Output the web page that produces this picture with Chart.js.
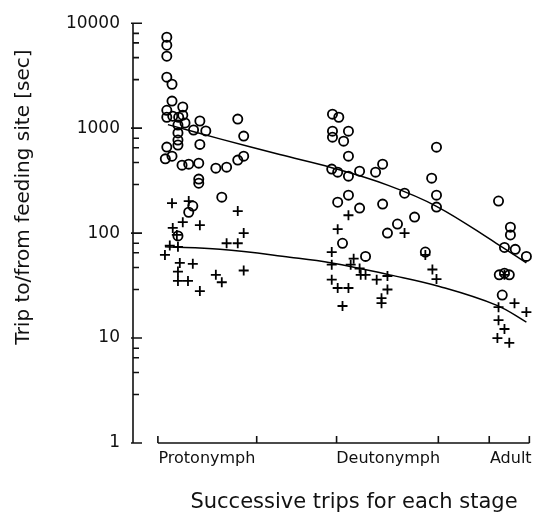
<!DOCTYPE html>
<html>
<head>
<meta charset="utf-8">
<script src="https://cdn.jsdelivr.net/npm/chart.js@4"></script>
<style>
  body { margin: 0; background: #fff; }
  #wrap { width: 538px; height: 518px; }
</style>
</head>
<body>
<div id="wrap"><canvas id="myChart"></canvas></div>
<script>
// stage labels and where they sit on the trip axis
const stageLabels = ['Protonymph', 'Deutonymph', 'Adult'];
const stageLabelPos = [13.2, 62, 95];
const xTickPositions = [0, 26.6, 48.1, 75.5, 89.2, 100];
const yTicks = [1, 10, 100, 1000, 10000];
const minorTickFactors = [8, 6.5, 4.7, 2.9];

// trips "to" feeding site (circles)
const circleTrips = [
  2.4, 2.4, 2.4, 2.4, 3.8, 3.8, 2.4, 6.7, 2.4, 4.0, 5.6, 6.7, 7.3, 11.3, 21.5,
  9.6, 12.9, 5.4, 5.4, 5.4, 5.4, 11.3, 23.1, 2.4, 2.0, 3.8, 6.5, 8.3, 11.0, 15.6,
  18.5, 21.5, 23.1, 11.0, 11.0, 17.2, 9.4, 8.3, 5.4,
  47.0, 48.7, 47.0, 47.0, 51.3, 50.0, 51.3, 46.8, 48.4, 51.3, 54.3, 58.6, 60.5,
  66.4, 51.3, 48.4, 60.5, 54.3, 69.1, 64.5, 61.8, 49.7, 55.9, 75.0, 73.7, 75.0,
  75.0, 72.0,
  91.7, 94.9, 94.9, 93.3, 96.2, 99.2, 91.9, 93.3, 94.6, 92.7
];
const circleTimes = [
  7360, 6170, 4850, 3060, 2620, 1810, 1480, 1590, 1270, 1300, 1270, 1330, 1120, 1170, 1220,
  960, 940, 1070, 900, 770, 690, 700, 840, 660, 510, 540, 444, 454, 464, 416,
  425, 496, 541, 327, 299, 220, 181, 158, 94,
  1360, 1270, 936, 821, 936, 752, 541, 407, 381, 349, 389, 381, 454,
  240, 230, 197, 189, 173, 142, 122, 100, 80, 60, 659, 334, 230,
  177, 66,
  202, 114, 96, 73, 70, 60, 40, 41.5, 40, 25.7
];

// trips "from" feeding site (crosses)
const crossTrips = [
  3.8, 8.3, 21.5, 6.7, 11.3, 4.0, 5.1, 23.1, 5.4, 3.2, 1.9, 5.9, 9.4, 5.4, 5.4,
  8.1, 11.3, 15.6, 17.2, 23.1, 18.5, 21.5,
  51.3, 48.4, 66.4, 46.8, 46.8, 52.7, 51.9, 54.3, 54.6, 55.9, 58.9, 61.8, 46.8,
  48.4, 51.3, 61.8, 60.2, 60.2, 49.7, 72.0, 73.9, 75.0,
  96.0, 99.2, 91.7, 91.7, 93.3, 91.4, 94.6, 93.3
];
const crossTimes = [
  193, 202, 162, 127, 119, 112, 96, 100, 74, 76, 62, 52, 51, 43, 35,
  35, 28, 40, 34, 44, 80, 80,
  148, 109, 100, 66, 50, 57, 50, 46, 40, 40, 36, 39, 36,
  30, 30, 29, 24, 21.5, 20.2, 62, 45, 36.5,
  21.5, 17.7, 19.7, 14.8, 12.2, 10, 9, 40
];

// fitted curves
const fitToX = [2.7, 16.7, 32.8, 46.8, 62, 75, 91.1, 99.2];
const fitToY = [1080, 790, 560, 420, 285, 180, 80, 52];
const fitFromX = [1.9, 16.7, 35.5, 46.8, 62.4, 75.8, 91.1, 99.2];
const fitFromY = [74, 70, 59, 52, 40, 31, 20.6, 14.2];

const xTitle = 'Successive trips for each stage';
const yTitle = 'Trip to/from feeding site [sec]';

const pairs = (xs, ys) => xs.map((x, i) => ({ x: x, y: ys[i] }));

const axisPlugin = {
  id: 'axisPlugin',
  beforeDatasetsDraw(chart) {
    const { ctx, chartArea: a, scales: { x, y } } = chart;
    ctx.save();
    ctx.strokeStyle = '#111';
    ctx.lineWidth = 1.6;
    ctx.beginPath();
    ctx.moveTo(a.left, a.top);
    ctx.lineTo(a.left, a.bottom);
    ctx.moveTo(x.getPixelForValue(xTickPositions[0]), a.bottom);
    ctx.lineTo(a.right, a.bottom);
    yTicks.forEach(v => {
      const py = y.getPixelForValue(v);
      ctx.moveTo(a.left - 2, py);
      ctx.lineTo(a.left + 9, py);
    });
    [1, 10, 100, 1000].forEach(d => {
      minorTickFactors.forEach(m => {
        const py = y.getPixelForValue(d * m);
        ctx.moveTo(a.left, py);
        ctx.lineTo(a.left + 6, py);
      });
    });
    xTickPositions.forEach(v => {
      const px = x.getPixelForValue(v);
      ctx.moveTo(px, a.bottom);
      ctx.lineTo(px, a.bottom - 7);
    });
    ctx.stroke();

    ctx.fillStyle = '#111';
    ctx.textAlign = 'center';
    ctx.textBaseline = 'alphabetic';
    ctx.font = '21px "DejaVu Sans"';
    ctx.fillText(xTitle, 354, 508);
    ctx.translate(29, 197);
    ctx.rotate(-Math.PI / 2);
    ctx.font = '20px "DejaVu Sans"';
    ctx.fillText(yTitle, 0, 0);
    ctx.restore();
  }
};

const ctx = document.getElementById('myChart').getContext('2d');

const config = {
  type: 'scatter',
  data: {
    datasets: [
      {
        label: 'to',
        data: pairs(circleTrips, circleTimes),
        pointStyle: 'circle',
        pointRadius: 4.6,
        borderColor: '#000',
        backgroundColor: 'rgba(255,255,255,0)',
        borderWidth: 1.8,
        clip: false
      },
      {
        label: 'from',
        data: pairs(crossTrips, crossTimes),
        pointStyle: 'cross',
        pointRadius: 5,
        borderColor: '#000',
        borderWidth: 1.8,
        clip: false
      },
      {
        label: 'fit to',
        data: pairs(fitToX, fitToY),
        showLine: true,
        pointRadius: 0,
        borderColor: '#000',
        borderWidth: 1.5,
        tension: 0.4,
        clip: false
      },
      {
        label: 'fit from',
        data: pairs(fitFromX, fitFromY),
        showLine: true,
        pointRadius: 0,
        borderColor: '#000',
        borderWidth: 1.5,
        tension: 0.4,
        clip: false
      }
    ]
  },
  options: {
    responsive: true,
    maintainAspectRatio: false,
    animation: false,
    layout: { padding: { top: 23, right: 8, left: 0, bottom: 0 } },
    plugins: {
      legend: { display: false },
      tooltip: { enabled: false }
    },
    scales: {
      x: {
        type: 'linear',
        min: -6.7,
        max: 100,
        grid: { display: false, drawTicks: false },
        border: { display: false },
        afterBuildTicks: scale => {
          scale.ticks = stageLabelPos.map(v => ({ value: v }));
        },
        afterFit: scale => { scale.height = 75; },
        ticks: {
          autoSkip: false,
          maxRotation: 0,
          padding: 6,
          color: '#111',
          font: { family: 'DejaVu Sans', size: 16 },
          callback: (v, i) => stageLabels[i]
        }
      },
      y: {
        type: 'logarithmic',
        min: 1,
        max: 10000,
        grid: { display: false, drawTicks: false },
        border: { display: false },
        afterBuildTicks: scale => {
          scale.ticks = yTicks.map(v => ({ value: v }));
        },
        afterFit: scale => { scale.width = 133; },
        ticks: {
          autoSkip: false,
          padding: 13,
          color: '#111',
          font: { family: 'DejaVu Sans', size: 17 },
          callback: v => String(v)
        }
      }
    }
  },
  plugins: [axisPlugin]
};

const myChart = new Chart(ctx, config);
</script>
</body>
</html>
